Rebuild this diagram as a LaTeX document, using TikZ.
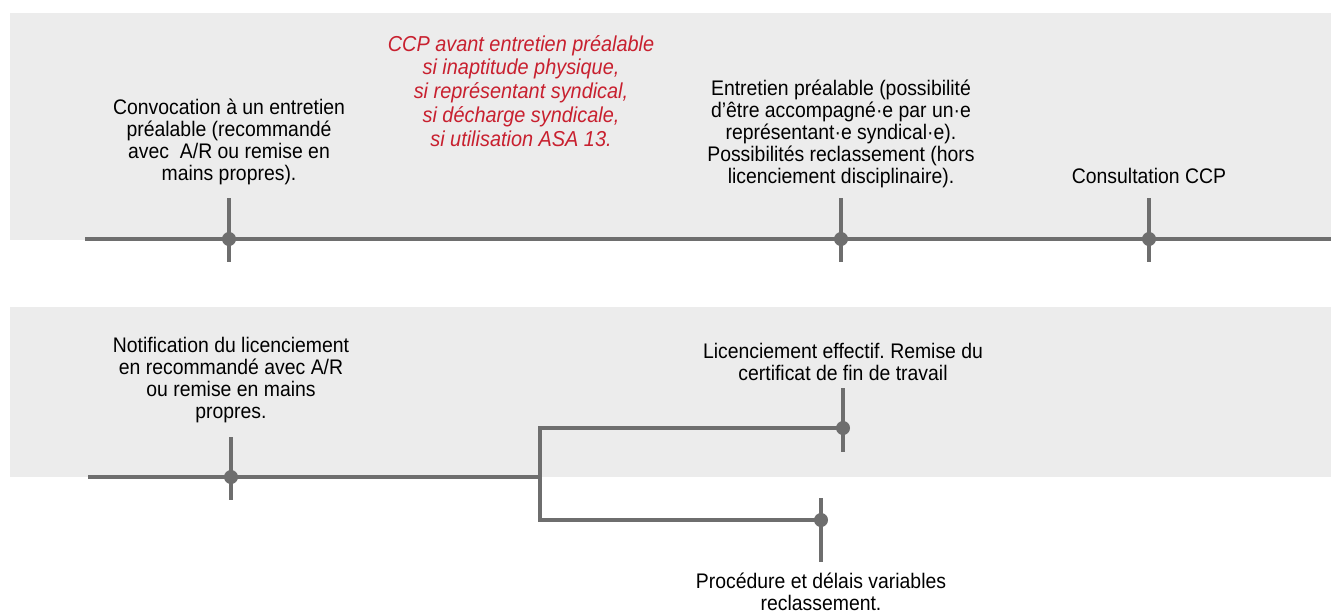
\documentclass[tikz,border=0pt]{standalone}
\usepackage{fontspec}
\setmainfont{Liberation Sans}[FakeStretch=0.92]
\usepackage{xcolor}
\usepackage{tikz}
\frenchspacing

\definecolor{bandgray}{HTML}{ECECEC}
\definecolor{linegray}{HTML}{6E6E6E}
\definecolor{ccpred}{HTML}{C8202F}

\tikzset{
  band/.style={fill=bandgray, draw=none},
  track/.style={draw=linegray, line width=0.8mm},
  tick/.style={draw=linegray, line width=0.8mm},
  dot/.style={fill=linegray},
  stage/.style={align=center, inner sep=0pt, font=\fontsize{12}{12.6}\selectfont},
  ccpnote/.style={align=center, inner sep=0pt, text=ccpred, font=\fontsize{12.3}{13.6}\selectfont\itshape}
}

\begin{document}
\begin{tikzpicture}
\useasboundingbox (0,0) rectangle (26.62,-12.26);

% bandes grises
\fill [band] (0.2,-0.26) rectangle (26.62,-4.8);
\fill [band] (0.2,-6.14) rectangle (26.62,-9.54);

% premiere ligne
\coordinate (debut) at (1.7,-4.78);
\coordinate (fin) at (26.62,-4.78);
\coordinate (convocpt) at (4.58,-4.78);
\coordinate (entretienpt) at (16.82,-4.78);
\coordinate (consultpt) at (22.98,-4.78);

\draw [track] (debut) -- (fin);
\draw [tick] ([yshift=0.82cm]convocpt) -- ([yshift=-0.46cm]convocpt);
\draw [tick] ([yshift=0.82cm]entretienpt) -- ([yshift=-0.46cm]entretienpt);
\draw [tick] ([yshift=0.82cm]consultpt) -- ([yshift=-0.46cm]consultpt);
\fill [dot] (convocpt) circle (0.14);
\fill [dot] (entretienpt) circle (0.14);
\fill [dot] (consultpt) circle (0.14);

\node [stage] (convoc) at (4.58,-2.84) {Convocation à un entretien\\préalable (recommandé\\avec \ A/R ou remise en\\mains propres).};
\node [ccpnote] (ccp) at (10.42,-1.82) {CCP avant entretien préalable\\si inaptitude physique,\\si représentant syndical,\\si décharge syndicale,\\si utilisation ASA 13.};
\node [stage] (entretien) at (16.82,-2.68) {Entretien préalable (possibilité\\d’être accompagné·e par un·e\\représentant·e syndical·e).\\Possibilités reclassement (hors\\licenciement disciplinaire).};
\node [stage] (consult) at (22.98,-3.52) {Consultation CCP};

% seconde ligne
\coordinate (depart) at (1.76,-9.54);
\coordinate (notifpt) at (4.62,-9.54);
\coordinate (fourche) at (10.8,-9.54);
\coordinate (haut) at (10.8,-8.56);
\coordinate (bas) at (10.8,-10.4);
\coordinate (effectifpt) at (16.86,-8.56);
\coordinate (procedurept) at (16.42,-10.4);

\draw [track] (depart) -- (fourche);
\draw [track] (effectifpt) -- (haut) -- (bas) -- (procedurept);
\draw [tick] ([yshift=0.8cm]notifpt) -- ([yshift=-0.46cm]notifpt);
\draw [tick] ([yshift=0.8cm]effectifpt) -- ([yshift=-0.48cm]effectifpt);
\draw [tick] ([yshift=0.44cm]procedurept) -- ([yshift=-0.84cm]procedurept);
\fill [dot] (notifpt) circle (0.14);
\fill [dot] (effectifpt) circle (0.14);
\fill [dot] (procedurept) circle (0.14);

\node [stage] (notif) at (4.62,-7.6) {Notification du licenciement\\en recommandé avec A/R\\ou remise en mains\\propres.};
\node [stage] (effectif) at (16.86,-7.24) {Licenciement effectif. Remise du\\certificat de fin de travail};
\node [stage] (procedure) at (16.42,-11.84) {Procédure et délais variables\\reclassement.};

\end{tikzpicture}
\end{document}
